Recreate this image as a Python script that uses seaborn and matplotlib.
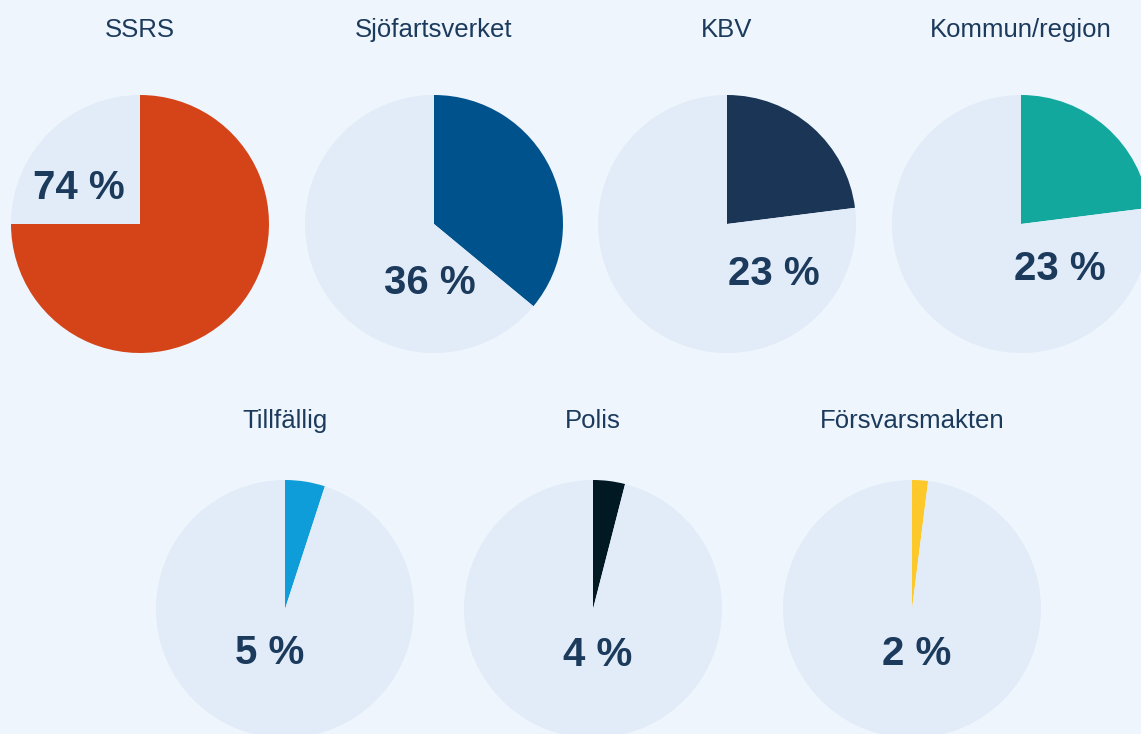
import seaborn as sns
import matplotlib.pyplot as plt

# share of reports per actor, as drawn (slice) and as printed (label)
labels = ['SSRS', 'Sjöfartsverket', 'KBV', 'Kommun/region',
          'Tillfällig', 'Polis', 'Försvarsmakten']
shares = [75, 36, 23, 23, 5, 4, 2]
pct_text = ['74 %', '36 %', '23 %', '23 %', '5 %', '4 %', '2 %']
colors = ['#d44418', '#00528c', '#1a3556', '#12a89d',
          '#0e9dd8', '#001922', '#fdc92a']

# where the big number sits, relative to pie centre (in radius units)
label_offsets = [(-0.47, 0.28), (-0.03, -0.46), (0.36, -0.39), (0.30, -0.35),
                 (-0.12, -0.34), (0.04, -0.36), (0.04, -0.35)]

# pie centres in pixels (x, y from top)
centres = [(140, 224), (434, 224), (727, 224), (1021, 224),
           (285, 609), (593, 609), (912, 609)]

BG = '#eef5fc'
REST = '#e2ecf8'
TXT = '#1b3a5c'
W, H = 1141, 734
R = 129

sns.set_theme(style='white')
plt.rcParams['font.family'] = ['Liberation Sans', 'DejaVu Sans']

fig = plt.figure(figsize=(W / 100, H / 100), dpi=100)
fig.patch.set_facecolor(BG)

for name, val, txt, col, off, (cx, cy) in zip(labels, shares, pct_text, colors,
                                              label_offsets, centres):
    ax = fig.add_axes([(cx - R) / W, (H - cy - R) / H, 2 * R / W, 2 * R / H])
    ax.set_facecolor(BG)
    ax.pie([val, 100 - val], colors=[col, REST], startangle=90, counterclock=False,
           radius=1, wedgeprops=dict(linewidth=0))
    ax.set_xlim(-1, 1)
    ax.set_ylim(-1, 1)
    ax.set_aspect('equal')
    ax.axis('off')
    ax.text(off[0], off[1], txt, ha='center', va='center',
            fontsize=29, fontweight='bold', color=TXT)
    # title above the pie
    ty = 30 if cy < 400 else 421
    fig.text(cx / W, 1 - ty / H, name, ha='center', va='center',
             fontsize=18.5, color=TXT)

fig.savefig('out.png', dpi=100, facecolor=BG)
